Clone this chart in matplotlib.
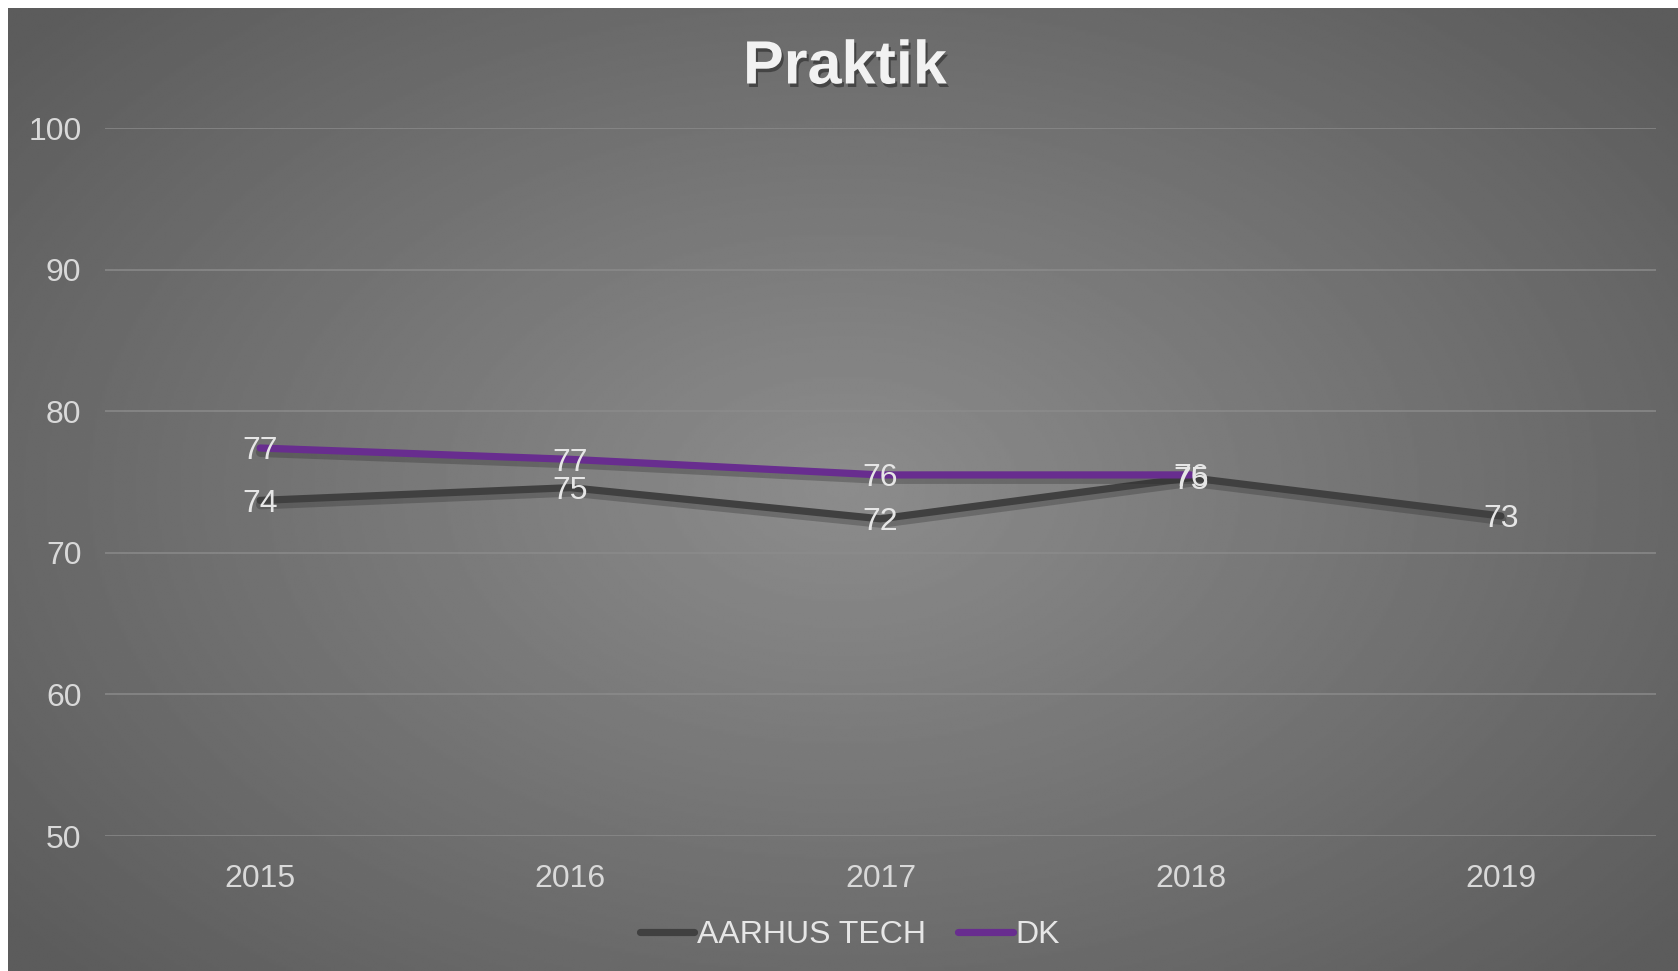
import numpy as np
import matplotlib
matplotlib.use("Agg")
import matplotlib.pyplot as plt
import matplotlib.patheffects as pe

# data
years = ["2015", "2016", "2017", "2018", "2019"]
aarhus_tech = [73.7, 74.6, 72.4, 75.3, 72.6]
dk = [77.4, 76.6, 75.5, 75.5]
aarhus_labels = ["74", "75", "72", "75", "73"]
dk_labels = ["77", "77", "76", "76"]
y_ticks = [50, 60, 70, 80, 90, 100]

plt.rcParams["font.family"] = ["Liberation Sans", "DejaVu Sans"]

W, H = 1678, 971
fig = plt.figure(figsize=(W / 100, H / 100), dpi=100)
fig.patch.set_facecolor("white")

# background gradient (lighter in the middle)
bg = fig.add_axes([8 / W, 0, 1 - 8 / W, 1 - 8 / H])
yy, xx = np.mgrid[-1:1:400j, -1:1:700j]
r = np.sqrt(xx ** 2 + (yy * 0.9) ** 2)
shade = 0.55 - 0.19 * np.clip(r / 1.3, 0, 1)
bg.imshow(shade, cmap="gray", vmin=0, vmax=1, aspect="auto",
          extent=[0, 1, 0, 1], interpolation="bilinear")
bg.set_axis_off()

ax = fig.add_axes([105 / W, 135 / H, (1656 - 105) / W, (836 - 128) / H])
ax.set_facecolor("none")
x = np.arange(len(years))

shadow = [pe.SimpleLineShadow(offset=(0.5, -3), shadow_color="#2a2a2a", alpha=0.3, linewidth=7),
          pe.Normal()]
ax.plot(x, aarhus_tech, color="#404040", lw=5.2, solid_capstyle="round",
        solid_joinstyle="miter", path_effects=shadow, label="AARHUS TECH", zorder=3)
ax.plot(x[:len(dk)], dk, color="#682d8f", lw=5.2, solid_capstyle="round",
        path_effects=shadow, label="DK", zorder=4)

# data labels sit centred on the points
for xi, v, t in list(zip(x, aarhus_tech, aarhus_labels)) + list(zip(x, dk, dk_labels)):
    ax.annotate(t, (xi, v), xytext=(0, -2.5), textcoords="offset points",
                ha="center", va="center", color="#e6e6e6", fontsize=23, zorder=6)

ax.set_xlim(-0.5, len(years) - 0.5)
ax.set_ylim(50, 100)
ax.set_yticks(y_ticks)
ax.set_xticks(x)
ax.set_xticklabels(years)
ax.tick_params(axis="both", length=0, colors="#d9d9d9", labelsize=23)
ax.tick_params(axis="x", pad=20)
ax.tick_params(axis="y", pad=17)
ax.grid(axis="y", color="#8c8c8c", lw=1.3, alpha=0.8)
ax.set_axisbelow(True)
for s in ax.spines.values():
    s.set_visible(False)

fig.text(845 / W, 1 - 68 / H, "Praktik", ha="center", va="center", fontsize=44,
         fontweight="bold", color="#f2f2f2",
         path_effects=[pe.withSimplePatchShadow(offset=(1.5, -2.5), shadow_rgbFace="#222222", alpha=0.55)])

leg = fig.legend(loc="center", bbox_to_anchor=(850 / W, 1 - 935 / H), ncol=2, frameon=False,
                 fontsize=23, labelcolor="#e6e6e6", handlelength=1.7, handletextpad=0.1,
                 columnspacing=1.0)
for h in leg.get_lines():
    h.set_path_effects([])
    h.set_linewidth(5.2)

fig.savefig("out.png", dpi=100)
